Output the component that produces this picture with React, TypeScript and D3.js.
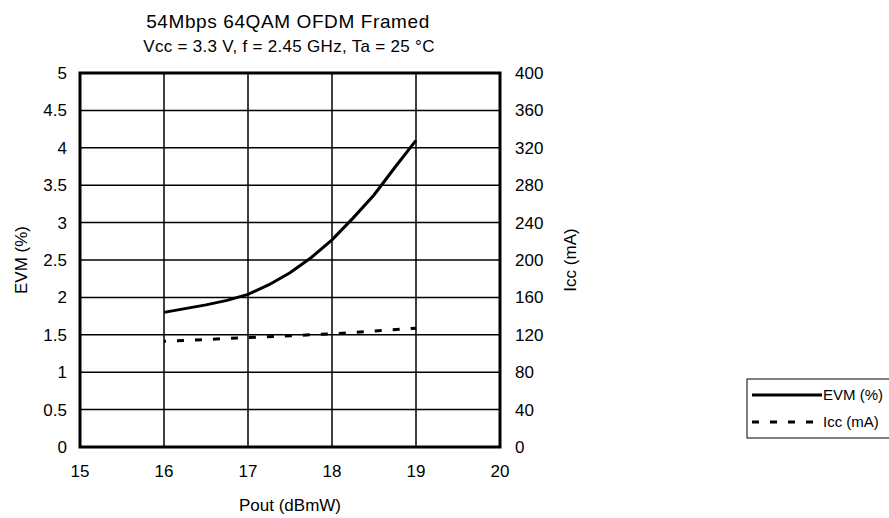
import React from "react";
import * as d3 from "d3";

const WIDTH = 889;
const HEIGHT = 518;
const MARGIN = { top: 73, right: 389, bottom: 71, left: 80 };

const TITLE = "54Mbps 64QAM OFDM Framed";
const SUBTITLE = "Vcc = 3.3 V, f = 2.45 GHz, Ta = 25 °C";

// EVM (%) vs Pout
const evmPout = [16, 16.25, 16.5, 16.75, 17, 17.25, 17.5, 17.75, 18, 18.25, 18.5, 18.75, 19];
const evmValues = [1.8, 1.85, 1.9, 1.96, 2.04, 2.17, 2.33, 2.53, 2.77, 3.06, 3.37, 3.74, 4.1];

// Icc (mA) vs Pout
const iccPout = [16, 16.5, 17, 17.5, 18, 18.5, 19];
const iccValues = [113, 115, 117, 119, 121, 124, 127];

const xTicks = [15, 16, 17, 18, 19, 20];
const evmTicks = [0, 0.5, 1, 1.5, 2, 2.5, 3, 3.5, 4, 4.5, 5];
const iccTicks = [0, 40, 80, 120, 160, 200, 240, 280, 320, 360, 400];

const FONT = "Arial, 'Liberation Sans', sans-serif";

export default function App() {
  const boundsWidth = WIDTH - MARGIN.left - MARGIN.right;
  const boundsHeight = HEIGHT - MARGIN.top - MARGIN.bottom;

  const xScale = d3.scaleLinear().domain([15, 20]).range([0, boundsWidth]);
  const yLeft = d3.scaleLinear().domain([0, 5]).range([boundsHeight, 0]);
  const yRight = d3.scaleLinear().domain([0, 400]).range([boundsHeight, 0]);

  const evmLine = d3
    .line<number>()
    .x((d, i) => xScale(evmPout[i]))
    .y((d) => yLeft(d));
  const iccLine = d3
    .line<number>()
    .x((d, i) => xScale(iccPout[i]))
    .y((d) => yRight(d));

  return (
    <svg
      width={WIDTH}
      height={HEIGHT}
      style={{ position: "absolute", left: 0, top: 0, background: "#fff" }}
      fontFamily={FONT}
    >
      <text x={MARGIN.left + boundsWidth / 2 - 2} y={28} textAnchor="middle" fontSize={19} letterSpacing={0.6}>
        {TITLE}
      </text>
      <text x={MARGIN.left + boundsWidth / 2 - 1} y={52} textAnchor="middle" fontSize={17} letterSpacing={0.3}>
        {SUBTITLE}
      </text>

      <g transform={`translate(${MARGIN.left},${MARGIN.top})`}>
        {/* grid */}
        {xTicks.map((t) => (
          <line key={"gx" + t} x1={xScale(t)} x2={xScale(t)} y1={0} y2={boundsHeight} stroke="#000" strokeWidth={1.5} />
        ))}
        {evmTicks.map((t) => (
          <line key={"gy" + t} x1={0} x2={boundsWidth} y1={yLeft(t)} y2={yLeft(t)} stroke="#000" strokeWidth={1.5} />
        ))}
        <rect x={0} y={0} width={boundsWidth} height={boundsHeight} fill="none" stroke="#000" strokeWidth={3} />

        {/* tick labels */}
        {evmTicks.map((t) => (
          <text key={"ly" + t} x={-13} y={yLeft(t)} dy="0.35em" textAnchor="end" fontSize={17}>
            {t}
          </text>
        ))}
        {iccTicks.map((t) => (
          <text key={"ry" + t} x={boundsWidth + 15} y={yRight(t)} dy="0.35em" textAnchor="start" fontSize={17}>
            {t}
          </text>
        ))}
        {xTicks.map((t) => (
          <text key={"lx" + t} x={xScale(t)} y={boundsHeight + 30} textAnchor="middle" fontSize={17}>
            {t}
          </text>
        ))}

        {/* axis titles */}
        <text x={boundsWidth / 2} y={boundsHeight + 64} textAnchor="middle" fontSize={17}>
          Pout (dBmW)
        </text>
        <text
          transform={`translate(${-53},${boundsHeight / 2}) rotate(-90)`}
          textAnchor="middle"
          fontSize={17}
        >
          EVM (%)
        </text>
        <text
          transform={`translate(${boundsWidth + 76},${boundsHeight / 2}) rotate(-90)`}
          textAnchor="middle"
          fontSize={17}
        >
          Icc (mA)
        </text>

        {/* series */}
        <path
          d={iccLine(iccValues) ?? ""}
          fill="none"
          stroke="#000"
          strokeWidth={3}
          strokeDasharray="7,11"
          strokeDashoffset={5}
        />
        <path d={evmLine(evmValues) ?? ""} fill="none" stroke="#000" strokeWidth={3} />
      </g>

      {/* legend */}
      <g transform="translate(747,379)">
        <rect x={0} y={0} width={150} height={59} fill="#fff" stroke="#000" strokeWidth={1} />
        <line x1={5} x2={75} y1={16} y2={16} stroke="#000" strokeWidth={3} />
        <text x={76} y={16} dy="0.35em" fontSize={15}>
          EVM (%)
        </text>
        <line x1={5} x2={75} y1={43} y2={43} stroke="#000" strokeWidth={3} strokeDasharray="7,11" />
        <text x={76} y={43} dy="0.35em" fontSize={15}>
          Icc (mA)
        </text>
      </g>
    </svg>
  );
}
